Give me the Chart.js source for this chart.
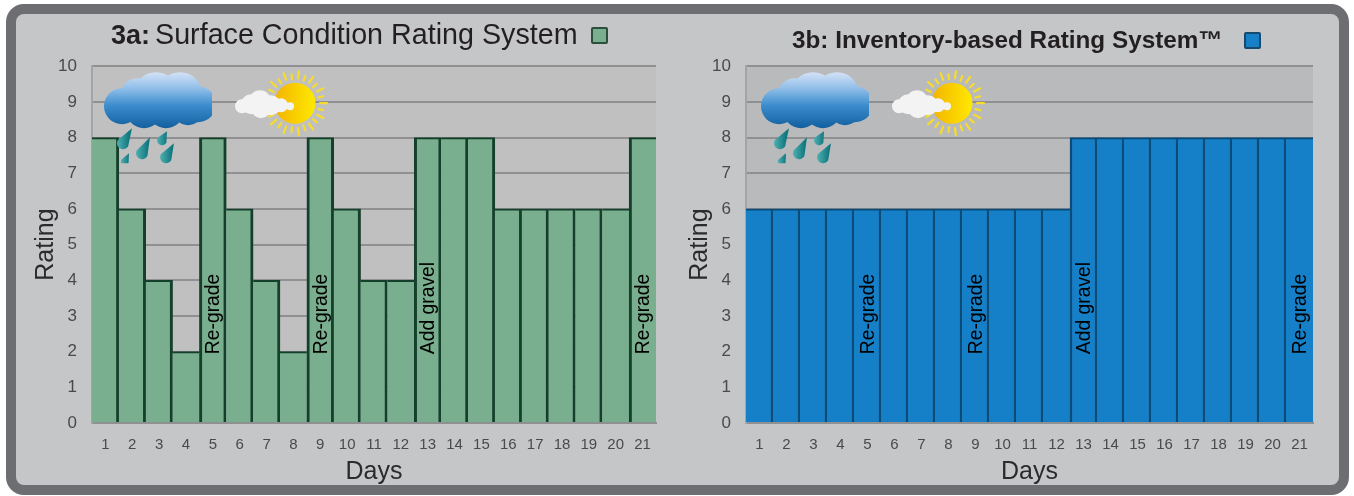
<!DOCTYPE html>
<html>
<head>
<meta charset="utf-8">
<title>Rating systems</title>
<script src="https://cdn.jsdelivr.net/npm/chart.js@4"></script>
<style>
  html, body { margin: 0; padding: 0; background: #fff; width: 1354px; height: 496px; overflow: hidden; }
  body { font-family: "Liberation Sans", Arial, sans-serif; position: relative; }
  .frame { position: absolute; left: 6px; top: 4px; width: 1343px; height: 491px; box-sizing: border-box;
           border: 10px solid #6d6e71; border-radius: 18px; background: #c5c6c8; }
  canvas { position: absolute; }
  .title { position: absolute; color: #231f20; white-space: nowrap; }
  .swatch { position: absolute; box-sizing: border-box; border: 2px solid; border-radius: 2px; width: 17px; height: 17px; }
</style>
</head>
<body>
<div class="frame"></div>

<canvas id="chartA" width="645" height="446" style="left:20px; top:41px;"></canvas>
<div class="title" style="left:111px; top:18px; font-size:27px;"><b>3a:</b><span style="margin-left:5px; font-size:28.7px">Surface Condition Rating System</span></div>
<div class="swatch" style="left:591px; top:27px; background:#79ae8e; border-color:#2c4f3c;"></div>

<canvas id="chartB" width="645" height="446" style="left:674px; top:41px;"></canvas>
<div class="title" style="left:792px; top:26px; font-size:24.3px; font-weight:bold;">3b: Inventory-based Rating System™</div>
<div class="swatch" style="left:1244px; top:32px; background:#1580c8; border-color:#17496e;"></div>

<script>
var days = ['1', '2', '3', '4', '5', '6', '7', '8', '9', '10', '11', '12', '13', '14', '15', '16', '17', '18', '19', '20', '21'];
var surfaceRatings = [8, 6, 4, 2, 8, 6, 4, 2, 8, 6, 4, 4, 8, 8, 8, 6, 6, 6, 6, 6, 8];
var inventoryRatings = [6, 6, 6, 6, 6, 6, 6, 6, 6, 6, 6, 6, 8, 8, 8, 8, 8, 8, 8, 8, 8];
var actionDays = ['5', '9', '13', '21'];
var actionLabels = ['Re-grade', 'Re-grade', 'Add gravel', 'Re-grade'];

var FONT = '"Liberation Sans", Arial, sans-serif';

// rain cloud, cut flat on its right side the way the clip-art is
function drawCloud(ctx, x, y) {
    var blobs = [[18, 34, 18], [34, 24, 18], [52, 22, 22], [76, 22, 22], [94, 32, 18], [40, 38, 18], [62, 38, 18], [84, 38, 15]];
    ctx.save();
    ctx.beginPath();
    ctx.rect(x, y - 4, 108, 64);
    ctx.clip();
    var g = ctx.createLinearGradient(0, y, 0, y + 56);
    g.addColorStop(0, '#d5e2f6');
    g.addColorStop(0.3, '#8dbde8');
    g.addColorStop(0.6, '#3a8ccc');
    g.addColorStop(1, '#135f9f');
    ctx.fillStyle = g;
    ctx.beginPath();
    blobs.forEach(function (b) {
        ctx.moveTo(x + b[0] + b[2], y + b[1]);
        ctx.arc(x + b[0], y + b[1], b[2], 0, Math.PI * 2);
    });
    ctx.fill();
    ctx.restore();
}

// one teardrop, bulb at (bx, by), tip at (tx, ty)
function drawDrop(ctx, bx, by, r, tx, ty) {
    var a = Math.atan2(ty - by, tx - bx);
    var g = ctx.createLinearGradient(bx - r, by, bx + r, by);
    g.addColorStop(0, '#4fb0b0');
    g.addColorStop(1, '#11777f');
    ctx.fillStyle = g;
    ctx.beginPath();
    ctx.moveTo(tx, ty);
    ctx.arc(bx, by, r, a + Math.PI / 2, a - Math.PI / 2);
    ctx.closePath();
    ctx.fill();
}

function drawSun(ctx, cx, cy) {
    ctx.strokeStyle = '#f7dc2a';
    ctx.lineCap = 'round';
    ctx.lineWidth = 2.2;
    for (var i = 0; i < 26; i++) {
        var a = i / 26 * Math.PI * 2;
        var inner = i % 2 ? 24 : 25;
        var outer = i % 2 ? 29 : 32;
        ctx.beginPath();
        ctx.moveTo(cx + Math.cos(a) * inner, cy + Math.sin(a) * inner);
        ctx.lineTo(cx + Math.cos(a) * outer, cy + Math.sin(a) * outer);
        ctx.stroke();
    }
    var g = ctx.createLinearGradient(cx - 20, cy, cx + 20, cy);
    g.addColorStop(0, '#f3b400');
    g.addColorStop(1, '#ffe800');
    ctx.fillStyle = g;
    ctx.beginPath();
    ctx.arc(cx, cy, 20.5, 0, Math.PI * 2);
    ctx.fill();
    // small white cloud over the sun
    var puffs = [[-53, 3, 7], [-44, 1, 10], [-35, -2, 11], [-34, 5, 10], [-24, 2, 10], [-14, 2, 7], [-5, 3, 4]];
    ctx.fillStyle = '#f3f3f3';
    ctx.beginPath();
    puffs.forEach(function (p) {
        ctx.moveTo(cx + p[0] + p[2], cy + p[1]);
        ctx.arc(cx + p[0], cy + p[1], p[2], 0, Math.PI * 2);
    });
    ctx.fill();
}

var panelPlugin = {
    id: 'panel',
    beforeDraw: function (chart, args, opts) {
        var a = chart.chartArea, ctx = chart.ctx;
        ctx.save();
        ctx.fillStyle = opts.plotColor;
        ctx.fillRect(a.left, a.top, a.right - a.left, a.bottom - a.top);
        ctx.restore();
    },
    afterDraw: function (chart, args, opts) {
        var a = chart.chartArea, ctx = chart.ctx;
        var xs = chart.scales.x, ys = chart.scales.y;

        // weather icons sit over the bars
        ctx.save();
        var ox = a.left + opts.iconOffset, oy = a.top;
        drawCloud(ctx, ox, oy + 6);
        drawDrop(ctx, ox + 19, oy + 77, 6, ox + 28, oy + 62);
        drawDrop(ctx, ox + 38, oy + 87, 6, ox + 46, oy + 71);
        drawDrop(ctx, ox + 58, oy + 74, 5, ox + 63, oy + 65);
        drawDrop(ctx, ox + 62, oy + 91, 6, ox + 70, oy + 77);
        ctx.save();
        ctx.beginPath();
        ctx.rect(ox + 10, oy + 80, 20, 17);
        ctx.clip();
        drawDrop(ctx, ox + 21, oy + 95, 4, ox + 25, oy + 87);
        ctx.restore();
        drawSun(ctx, ox + 191, oy + 37);
        ctx.restore();

        // maintenance actions, written up the bar they happened on
        ctx.save();
        ctx.fillStyle = '#000';
        ctx.font = '19.3px ' + FONT;
        ctx.textAlign = 'left';
        ctx.textBaseline = 'middle';
        actionDays.forEach(function (day, i) {
            ctx.save();
            ctx.translate(xs.getPixelForValue(days.indexOf(day)) + 1, ys.getPixelForValue(1.93));
            ctx.rotate(-Math.PI / 2);
            ctx.fillText(actionLabels[i], 0, 0);
            ctx.restore();
        });
        ctx.restore();
    }
};

function ratingChart(id, values, fill, edge, plotColor, iconOffset, rightPad, sideWidth) {
    return new Chart(document.getElementById(id).getContext('2d'), {
        type: 'bar',
        plugins: [panelPlugin],
        data: {
            labels: days,
            datasets: [{
                data: values,
                backgroundColor: fill,
                borderColor: edge,
                borderSkipped: 'bottom',
                // one dark line between neighbours, on the side of the taller bar
                borderWidth: function (c) {
                    var i = c.dataIndex, v = values[i];
                    return {
                        top: 2,
                        left: i > 0 && values[i - 1] < v ? sideWidth : 0,
                        right: i < values.length - 1 && values[i + 1] <= v ? sideWidth : 0,
                        bottom: 0
                    };
                },
                barPercentage: 1,
                categoryPercentage: 1
            }]
        },
        options: {
            responsive: false,
            animation: false,
            layout: { autoPadding: false, padding: { top: 11, right: rightPad, left: 0, bottom: 0 } },
            plugins: {
                legend: { display: false },
                tooltip: { enabled: false },
                panel: { plotColor: plotColor, iconOffset: iconOffset }
            },
            scales: {
                x: {
                    afterFit: function (s) { s.height = 64; },
                    grid: { display: false },
                    border: { color: '#8f9092', width: 2 },
                    ticks: { color: '#4a4a4c', font: { family: FONT, size: 15 }, maxRotation: 0, autoSkip: false, padding: 5 },
                    title: { display: true, text: 'Days', color: '#2b2b2d', font: { family: FONT, size: 25 }, padding: { top: 2, bottom: 0 } }
                },
                y: {
                    min: 0,
                    max: 10,
                    afterFit: function (s) { s.width = 72; },
                    grid: { color: '#909092', lineWidth: 2, drawTicks: false },
                    border: { color: '#a3a4a6', width: 2 },
                    ticks: { stepSize: 1, color: '#4a4a4c', font: { family: FONT, size: 17 }, padding: 15 },
                    title: { display: true, text: 'Rating', color: '#2b2b2d', font: { family: FONT, size: 25 }, padding: { top: 11, bottom: 0 } }
                }
            }
        }
    });
}

document.addEventListener('DOMContentLoaded', function () {
    ratingChart('chartA', surfaceRatings, '#79ae8e', '#143f2a', '#c0c0c1', 12, 9, 3);
    ratingChart('chartB', inventoryRatings, '#1580c8', '#0b4b78', '#b9babb', 15, 6, 2.5);
});
</script>
</body>
</html>
